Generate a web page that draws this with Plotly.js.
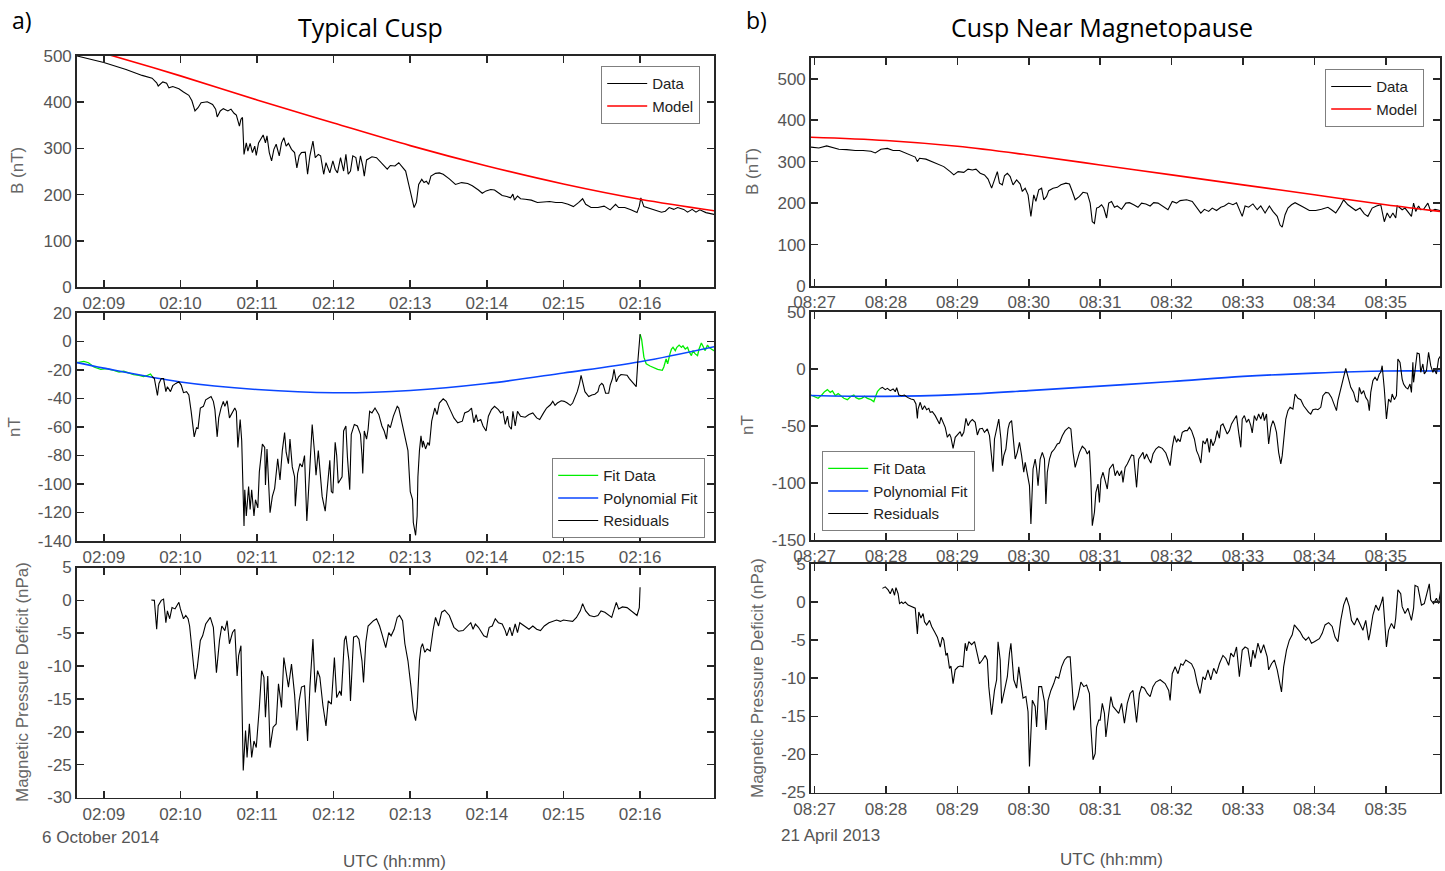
<!DOCTYPE html>
<html>
<head>
<meta charset="utf-8">
<script src="https://cdn.plot.ly/plotly-3.0.1.min.js"></script>
<style>
  html, body { margin: 0; padding: 0; background: #fff; }
  #chart { width: 1445px; height: 871px; }
</style>
</head>
<body>
<div id="chart"></div>
<script>
// ---------- Event a) Typical Cusp, 6 October 2014 (time in minutes after 02:00 UTC) ----------
const aTickVals = [9, 10, 11, 12, 13, 14, 15, 16];
const aTickText = ['02:09', '02:10', '02:11', '02:12', '02:13', '02:14', '02:15', '02:16'];

const aDataT = [8.65,8.81,9.00,9.29,9.50,9.63,9.69,9.71,9.77,9.82,9.85,9.90,9.98,10.04,10.11,10.15,10.19,10.23,10.27,10.35,
  10.42,10.46,10.48,10.52,10.56,10.62,10.66,10.70,10.73,10.77,10.79,10.81,10.83,10.86,10.88,10.91,10.94,10.97,10.99,11.02,
  11.05,11.08,11.11,11.13,11.16,11.19,11.22,11.25,11.29,11.32,11.35,11.38,11.41,11.45,11.49,11.52,11.55,11.58,11.63,11.66,
  11.69,11.73,11.76,11.80,11.83,11.87,11.90,11.95,11.99,12.02,12.05,12.09,12.13,12.16,12.19,12.22,12.25,12.29,12.32,12.35,
  12.38,12.40,12.43,12.47,12.50,12.56,12.61,12.66,12.70,12.74,12.80,12.85,12.90,12.94,12.98,13.02,13.05,13.08,13.11,13.15,
  13.18,13.21,13.24,13.27,13.33,13.38,13.43,13.51,13.59,13.67,13.75,13.81,13.85,13.89,13.94,13.99,14.05,14.10,14.15,14.20,
  14.26,14.31,14.34,14.36,14.40,14.44,14.50,14.58,14.66,14.74,14.82,14.90,14.98,15.06,15.13,15.20,15.25,15.29,15.36,15.45,
  15.53,15.61,15.68,15.72,15.80,15.88,15.96,15.99,16.01,16.05,16.12,16.20,16.28,16.33,16.38,16.44,16.49,16.57,16.62,16.68,
  16.73,16.78,16.86,16.97];
const aDataB = [500,493,486,471,458,452,442,435,444,441,431,434,429,422,415,403,381,388,399,401,
  395,385,368,381,386,381,385,376,372,348,363,367,287,312,294,311,291,305,285,312,
  320,329,312,327,291,273,298,309,284,312,323,305,311,298,291,258,284,291,292,244,
  284,316,280,287,284,244,269,247,273,255,247,280,251,287,244,251,284,280,251,284,
  262,240,275,280,282,280,271,262,255,263,262,269,260,251,222,193,172,183,222,233,
  226,229,222,240,246,247,244,234,222,226,224,219,215,210,203,208,211,210,204,198,
  196,193,201,188,197,191,190,188,183,184,185,183,183,179,174,183,191,179,172,172,
  175,167,179,172,172,167,161,175,193,174,170,167,162,164,172,168,172,168,162,168,
  162,167,161,157];

const aModelT = [8.65, 9, 10, 11, 12, 13, 14, 15, 16, 16.97];
const aModelB = [522, 506, 457, 405, 355, 306, 262, 223, 190, 165];

const aFitT = [8.65,8.74,8.80,8.87,8.96,9.04,9.13,9.20,9.26,9.33,9.39,9.46,9.52,9.57,9.61,9.63, null,
  16.00,16.02,16.05,16.08,16.13,16.18,16.23,16.29,16.31,16.34,16.36,16.39,16.41,16.43,16.46,16.48,16.51,16.54,16.56,
  16.59,16.62,16.64,16.67,16.69,16.72,16.75,16.77,16.80,16.83,16.85,16.88,16.90,16.93,16.96,16.99];
const aFitV = [-14.9,-14.0,-14.9,-17.9,-19.5,-19.1,-20.2,-21.4,-20.9,-22.3,-23.2,-23.7,-24.6,-23.7,-22.8,-24.4, null,
  5.1,1.6,-11.0,-15.6,-17.2,-18.6,-19.5,-20.2,-17.9,-12.2,-15.6,-8.7,-5.3,-4.1,-6.4,-4.1,-2.5,-4.1,-3.0,
  -5.3,-4.1,-7.1,-9.9,-6.4,-8.7,-9.9,-5.3,-1.1,-4.8,-6.4,-2.5,-4.1,-5.3,-6.4,-5.7];

const aPolyT = [8.65, 9, 10, 11, 12, 13, 14, 15, 16, 16.97];
const aPolyV = [-14.8, -18.7, -28.4, -33.7, -36.0, -34.4, -29.5, -22.1, -14.2, -3.6];

const aResT = [9.63,9.66,9.70,9.72,9.75,9.78,9.81,9.83,9.87,9.90,9.94,9.98,10.01,10.04,10.08,10.11,10.14,10.18,10.21,10.23,
  10.26,10.30,10.33,10.37,10.40,10.43,10.45,10.48,10.50,10.53,10.56,10.58,10.61,10.64,10.68,10.71,10.73,10.75,10.78,10.80,
  10.83,10.84,10.86,10.89,10.91,10.93,10.96,10.98,11.01,11.03,11.07,11.10,11.11,11.13,11.17,11.20,11.23,11.27,11.30,11.33,
  11.36,11.38,11.41,11.43,11.46,11.49,11.50,11.53,11.56,11.59,11.62,11.65,11.69,11.72,11.75,11.77,11.80,11.83,11.85,11.89,
  11.91,11.95,11.97,11.99,12.02,12.04,12.06,12.09,12.11,12.13,12.16,12.18,12.21,12.23,12.27,12.31,12.35,12.37,12.38,12.40,
  12.43,12.45,12.47,12.50,12.54,12.59,12.63,12.66,12.69,12.71,12.74,12.78,12.83,12.85,12.88,12.93,12.97,13.00,13.03,13.04,
  13.07,13.09,13.10,13.12,13.14,13.16,13.17,13.20,13.23,13.25,13.28,13.31,13.32,13.35,13.38,13.43,13.47,13.52,13.57,13.62,
  13.68,13.71,13.76,13.80,13.83,13.86,13.88,13.92,13.95,13.99,14.02,14.06,14.10,14.15,14.18,14.21,14.24,14.27,14.29,14.32,
  14.34,14.37,14.40,14.44,14.50,14.55,14.60,14.65,14.69,14.74,14.78,14.83,14.86,14.89,14.92,14.97,15.01,15.05,15.09,15.12,
  15.15,15.18,15.21,15.23,15.25,15.28,15.33,15.37,15.41,15.45,15.47,15.50,15.52,15.55,15.59,15.61,15.64,15.66,15.69,15.72,
  15.75,15.79,15.83,15.86,15.90,15.93,15.95,15.97,15.99,16.00];
const aResV = [-24.4,-26.0,-37.9,-29.4,-26.0,-26.0,-35.2,-31.7,-35.2,-31.0,-29.4,-28.3,-30.6,-35.9,-35.2,-37.5,-49.0,-66.9,-60.5,-61.0,
  -46.7,-45.5,-40.9,-39.3,-38.6,-42.0,-47.8,-66.9,-53.6,-46.7,-42.0,-45.5,-41.6,-53.6,-49.0,-46.7,-49.0,-74.3,-54.7,-69.7,
  -129.4,-104.0,-122.5,-101.8,-117.9,-104.0,-122.5,-111.0,-116.8,-91.5,-72.0,-74.3,-100.7,-75.4,-120.2,-108.7,-103.0,-82.3,-97.2,-76.6,
  -63.9,-77.7,-85.7,-68.5,-88.0,-94.9,-115.6,-92.6,-85.7,-88.0,-80.0,-126.0,-88.0,-58.2,-77.7,-93.8,-76.6,-94.9,-108.7,-119.1,
  -106.4,-83.4,-105.3,-106.4,-70.8,-80.0,-99.5,-97.2,-94.9,-62.8,-59.3,-81.1,-104.0,-65.1,-58.2,-59.3,-65.1,-80.0,-92.6,-62.8,
  -68.5,-61.6,-49.0,-50.1,-46.7,-51.3,-59.3,-62.8,-68.5,-58.2,-60.5,-52.4,-45.5,-46.7,-53.6,-67.4,-76.6,-105.3,-111.0,-127.0,
  -136.0,-122.5,-94.9,-76.6,-66.2,-74.3,-69.7,-75.4,-70.8,-73.0,-55.9,-49.0,-46.7,-51.3,-43.2,-40.2,-42.0,-47.8,-53.6,-57.0,
  -55.9,-50.1,-49.0,-46.7,-57.0,-51.3,-55.9,-54.7,-59.3,-62.8,-52.4,-47.8,-45.5,-47.8,-50.1,-49.0,-58.2,-52.4,-59.3,-61.6,
  -49.0,-59.3,-49.0,-52.4,-53.1,-51.3,-50.1,-53.6,-54.7,-50.1,-46.7,-44.4,-42.0,-44.8,-43.2,-41.6,-42.0,-43.2,-44.8,-43.2,
  -39.3,-35.2,-29.4,-23.7,-28.3,-35.2,-38.6,-37.5,-37.0,-35.2,-31.0,-29.4,-30.6,-36.3,-36.3,-30.6,-26.0,-19.5,-28.3,-24.8,
  -23.2,-23.2,-23.7,-26.0,-28.7,-30.6,-31.7,-14.5,-0.7,5.1];

const aDefT = [9.62,9.66,9.69,9.71,9.75,9.78,9.81,9.83,9.86,9.89,9.93,9.98,10.00,10.04,10.07,10.10,10.12,10.16,10.19,10.22,
  10.26,10.29,10.33,10.39,10.43,10.47,10.51,10.54,10.58,10.61,10.64,10.68,10.71,10.74,10.76,10.79,10.82,10.85,10.87,10.90,
  10.93,10.96,10.99,11.03,11.06,11.09,11.11,11.14,11.17,11.21,11.25,11.28,11.32,11.35,11.39,11.41,11.45,11.49,11.52,11.55,
  11.58,11.62,11.66,11.69,11.73,11.76,11.79,11.82,11.86,11.90,11.93,11.97,12.01,12.04,12.08,12.10,12.14,12.16,12.20,12.22,
  12.26,12.30,12.33,12.37,12.39,12.42,12.45,12.49,12.52,12.56,12.60,12.63,12.68,12.72,12.75,12.79,12.83,12.86,12.90,12.93,
  12.97,13.01,13.04,13.07,13.09,13.12,13.14,13.16,13.19,13.22,13.26,13.30,13.33,13.37,13.41,13.45,13.51,13.57,13.63,13.69,
  13.75,13.79,13.82,13.85,13.89,13.92,13.96,14.00,14.03,14.07,14.11,14.15,14.20,14.24,14.26,14.30,14.33,14.37,14.40,14.43,
  14.49,14.55,14.60,14.65,14.70,14.75,14.81,14.87,14.91,14.96,15.00,15.06,15.12,15.17,15.22,15.25,15.29,15.34,15.40,15.45,
  15.49,15.54,15.59,15.63,15.65,15.69,15.72,15.77,15.83,15.89,15.94,15.96,15.99,16.00];
const aDefV = [0.05,0,-4.4,-0.8,0,0.2,-3.4,-1.6,-2.8,-1.1,-1.3,-0.3,-1.3,-2.8,-2.3,-2.8,-3.9,-8.2,-12.0,-10.2,
  -6.1,-5.4,-3.6,-2.6,-4.1,-11.0,-6.1,-3.9,-4.6,-3.1,-6.6,-4.9,-4.4,-11.5,-8.4,-6.9,-25.9,-19.8,-23.9,-18.8,
  -23.9,-21.4,-22.4,-16.3,-10.7,-11.7,-17.8,-11.5,-22.4,-19.3,-18.8,-12.7,-16.3,-8.7,-11.5,-13.2,-9.7,-14.3,-19.8,-15.3,
  -13.2,-13.0,-21.4,-13.2,-5.9,-14.0,-10.7,-11.7,-16.0,-19.1,-15.3,-15.8,-8.7,-14.8,-13.8,-14.5,-6.1,-5.4,-9.2,-15.3,
  -5.6,-5.4,-5.9,-9.2,-12.5,-6.4,-3.9,-3.4,-3.1,-2.8,-3.9,-5.1,-7.2,-4.9,-5.4,-4.4,-2.6,-2.3,-3.1,-6.6,
  -9.2,-13.2,-16.8,-18.3,-16.3,-9.2,-7.2,-6.6,-7.9,-7.4,-7.7,-4.4,-2.6,-3.9,-1.8,-1.5,-2.3,-4.1,-4.7,-4.6,
  -3.9,-3.4,-4.4,-3.6,-4.1,-4.6,-5.4,-5.6,-4.1,-3.9,-2.8,-3.4,-3.6,-4.6,-5.4,-4.1,-5.4,-3.6,-4.9,-3.4,
  -3.9,-4.4,-3.9,-4.4,-4.6,-3.9,-3.4,-3.1,-3.0,-3.2,-3.0,-3.1,-3.2,-2.6,-1.6,-0.5,-1.6,-2.3,-2.5,-2.3,
  -1.6,-1.8,-2.3,-2.6,-1.8,-0.3,-1.3,-1.0,-1.1,-1.6,-2.0,-2.3,-1.1,2.0];

// ---------- Event b) Cusp Near Magnetopause, 21 April 2013 (time in minutes after 08:00 UTC) ----------
const bTickVals = [27, 28, 29, 30, 31, 32, 33, 34, 35];
const bTickText = ['08:27', '08:28', '08:29', '08:30', '08:31', '08:32', '08:33', '08:34', '08:35'];

const bDataT = [26.95,27.06,27.17,27.25,27.34,27.45,27.57,27.68,27.79,27.85,27.93,28.02,28.10,28.19,28.27,28.36,28.41,28.44,28.47,28.56,
  28.64,28.73,28.81,28.90,28.95,29.01,29.09,29.15,29.21,29.26,29.32,29.38,29.43,29.48,29.52,29.56,29.59,29.63,29.66,29.70,
  29.74,29.78,29.83,29.88,29.91,29.95,29.99,30.03,30.07,30.10,30.14,30.18,30.21,30.25,30.28,30.34,30.40,30.45,30.52,30.57,
  30.61,30.65,30.71,30.76,30.82,30.86,30.89,30.92,30.95,30.98,31.02,31.05,31.09,31.12,31.16,31.20,31.24,31.30,31.36,31.41,
  31.47,31.53,31.58,31.64,31.70,31.75,31.81,31.87,31.95,32.01,32.07,32.12,32.21,32.29,32.35,32.41,32.46,32.52,32.57,32.63,
  32.69,32.74,32.80,32.86,32.91,32.95,32.99,33.03,33.08,33.14,33.20,33.25,33.31,33.37,33.42,33.48,33.52,33.55,33.59,33.63,
  33.68,33.73,33.79,33.85,33.93,34.02,34.10,34.19,34.24,34.30,34.36,34.41,34.47,34.53,34.58,34.64,34.70,34.75,34.81,34.87,
  34.93,34.98,35.02,35.06,35.10,35.14,35.16,35.19,35.23,35.27,35.32,35.36,35.39,35.42,35.46,35.49,35.53,35.59,35.63,35.69,
  35.76];
const bDataB = [335,333,338,335,330,329,327,327,325,321,330,332,327,327,321,316,311,300,308,306,
  300,295,288,276,268,276,274,282,280,282,272,268,258,236,256,276,248,244,266,272,
  264,244,256,246,228,236,220,168,220,204,232,236,208,216,230,236,238,244,248,246,
  228,208,216,226,224,200,155,151,188,190,196,188,164,200,204,190,193,185,200,201,
  196,190,200,198,193,201,200,193,184,204,200,206,208,204,190,176,185,180,188,182,
  190,193,200,196,201,185,168,193,190,198,184,193,176,193,180,168,147,142,172,188,
  196,201,196,190,182,182,185,190,184,176,192,208,196,188,182,188,174,168,188,193,
  196,155,176,164,176,164,193,190,184,188,177,168,200,180,193,184,185,200,180,185,
  182];

const bModelT = [26.95, 28, 29, 30, 31, 32, 33, 34, 35, 35.76];
const bModelB = [359, 351, 337, 316, 292, 268, 244, 220, 196, 180];

const bFitT = [26.95,27.00,27.05,27.10,27.14,27.18,27.22,27.25,27.29,27.33,27.37,27.41,27.46,27.51,27.55,27.58,27.62,27.66,27.70,27.74,
  27.79,27.83,27.85,27.88,27.92];
const bFitV = [-22.8,-24.0,-25.7,-22.8,-19.9,-18.1,-20.5,-19.3,-23.4,-21.6,-24.0,-25.7,-26.9,-24.0,-22.8,-25.1,-26.3,-25.7,-24.0,-25.7,
  -26.9,-28.7,-24.9,-19.9,-17.0];

const bPolyT = [26.95, 28, 29, 30, 31, 32, 33, 34, 35, 35.76];
const bPolyV = [-23.2, -24.0, -22.5, -19.0, -15.0, -11.0, -6.5, -3.6, -1.8, -1.8];

const bResT = [27.92,27.95,27.99,28.02,28.06,28.10,28.13,28.15,28.18,28.22,28.26,28.30,28.35,28.39,28.42,28.44,28.45,28.48,28.51,28.54,
  28.57,28.60,28.62,28.65,28.69,28.72,28.75,28.77,28.80,28.83,28.86,28.89,28.91,28.94,28.97,29.01,29.04,29.06,29.09,29.12,
  29.15,29.18,29.21,29.25,29.28,29.31,29.35,29.38,29.42,29.45,29.48,29.50,29.52,29.55,29.58,29.61,29.63,29.65,29.68,29.71,
  29.73,29.76,29.79,29.81,29.84,29.87,29.90,29.93,29.95,29.98,30.01,30.03,30.06,30.09,30.11,30.13,30.16,30.19,30.22,30.24,
  30.26,30.29,30.32,30.36,30.40,30.43,30.47,30.51,30.56,30.59,30.62,30.65,30.68,30.71,30.75,30.79,30.82,30.85,30.87,30.89,
  30.92,30.94,30.97,30.99,31.01,31.04,31.07,31.10,31.13,31.16,31.18,31.21,31.24,31.27,31.30,31.32,31.35,31.38,31.41,31.44,
  31.47,31.49,31.51,31.54,31.57,31.60,31.62,31.65,31.68,31.71,31.74,31.78,31.82,31.87,31.92,31.95,31.98,32.01,32.04,32.07,
  32.09,32.12,32.15,32.19,32.22,32.25,32.28,32.32,32.35,32.38,32.41,32.44,32.47,32.50,32.53,32.55,32.58,32.61,32.64,32.67,
  32.69,32.72,32.75,32.78,32.81,32.84,32.88,32.91,32.94,32.97,32.99,33.02,33.05,33.08,33.11,33.13,33.16,33.19,33.22,33.25,
  33.28,33.30,33.33,33.36,33.39,33.42,33.44,33.47,33.50,33.53,33.55,33.58,33.60,33.63,33.66,33.70,33.73,33.77,33.81,33.85,
  33.88,33.92,33.95,33.98,34.02,34.05,34.09,34.12,34.16,34.20,34.24,34.28,34.31,34.33,34.37,34.41,34.44,34.48,34.51,34.55,
  34.58,34.61,34.63,34.66,34.69,34.72,34.75,34.77,34.79,34.82,34.85,34.88,34.91,34.93,34.95,34.98,35.01,35.04,35.07,35.09,
  35.12,35.15,35.17,35.20,35.23,35.25,35.28,35.31,35.34,35.36,35.38,35.39,35.41,35.44,35.47,35.49,35.52,35.54,35.57,35.60,
  35.63,35.66,35.68,35.71,35.74,35.77];
const bResV = [-17.0,-16.1,-18.1,-17.0,-19.0,-17.5,-19.9,-16.4,-22.8,-23.4,-22.8,-24.9,-26.3,-26.9,-30.7,-43.3,-35.1,-29.2,-35.7,-32.2,
  -35.7,-34.5,-38.0,-37.4,-40.9,-44.4,-48.2,-42.4,-46.8,-51.2,-59.9,-57.0,-59.9,-69.6,-59.9,-57.0,-55.0,-59.1,-55.6,-43.3,
  -49.7,-46.2,-44.4,-46.8,-57.9,-52.6,-52.0,-55.6,-52.6,-58.5,-81.9,-90.1,-61.4,-51.2,-43.9,-61.4,-84.8,-76.0,-70.2,-52.6,
  -47.4,-45.3,-67.3,-79.0,-73.1,-64.3,-76.0,-90.6,-81.9,-90.6,-102.3,-136.0,-87.7,-79.0,-87.7,-102.3,-79.0,-73.1,-79.0,-118.4,
  -90.6,-79.0,-73.1,-70.2,-65.8,-64.9,-58.5,-54.1,-51.2,-52.6,-73.1,-86.3,-79.0,-73.1,-67.8,-70.2,-74.6,-71.6,-96.5,-137.4,
  -125.7,-108.2,-100.9,-117.0,-96.5,-90.6,-98.0,-105.3,-87.7,-84.8,-83.3,-93.6,-89.2,-93.6,-89.2,-99.4,-86.3,-83.3,-79.0,-75.4,
  -76.0,-90.6,-103.8,-79.0,-76.0,-73.1,-79.0,-74.6,-79.0,-82.5,-74.6,-70.2,-68.1,-69.6,-73.7,-79.0,-84.8,-68.7,-58.5,-64.3,
  -61.4,-63.7,-55.6,-54.1,-54.1,-51.2,-54.1,-61.4,-71.6,-76.0,-82.5,-62.9,-65.8,-60.8,-73.1,-61.4,-67.3,-62.9,-54.1,-60.8,
  -49.7,-48.2,-52.6,-57.0,-54.1,-48.2,-43.9,-40.9,-55.6,-68.7,-43.9,-40.9,-46.8,-43.9,-49.7,-56.1,-40.9,-45.3,-39.5,-43.9,
  -38.0,-45.3,-39.5,-65.8,-51.2,-45.3,-48.2,-55.6,-73.1,-83.3,-76.0,-55.6,-43.9,-36.5,-33.6,-35.1,-21.9,-25.7,-26.9,-32.2,
  -35.1,-38.0,-39.5,-35.7,-35.1,-35.7,-33.6,-23.4,-20.5,-21.1,-24.9,-30.7,-36.5,-27.8,-17.5,-5.8,0.6,-8.8,-16.1,-20.5,
  -27.8,-29.2,-16.1,-21.9,-19.0,-24.9,-27.8,-36.5,-20.5,-10.2,-7.3,-10.2,-4.4,-2.9,2.9,-17.5,-43.9,-26.3,-29.2,-21.9,
  -26.9,-23.4,8.8,5.8,-8.8,-13.2,-16.1,-17.5,-13.2,-20.5,5.8,-11.7,0,14.0,13.2,-2.9,4.4,-4.4,-1.5,14.6,
  2.9,-2.9,0,-4.4,8.8,11.7];

const bDefT = [27.95,27.99,28.03,28.06,28.09,28.12,28.14,28.17,28.19,28.22,28.24,28.27,28.31,28.35,28.39,28.41,28.44,28.46,28.49,28.52,
  28.54,28.57,28.61,28.64,28.68,28.72,28.76,28.79,28.81,28.84,28.86,28.89,28.91,28.94,28.97,29.01,29.04,29.08,29.11,29.13,
  29.16,29.20,29.24,29.28,29.31,29.35,29.39,29.42,29.44,29.48,29.52,29.55,29.57,29.60,29.62,29.66,29.70,29.73,29.75,29.79,
  29.83,29.86,29.88,29.92,29.96,29.99,30.01,30.05,30.09,30.11,30.14,30.18,30.22,30.24,30.27,30.31,30.35,30.38,30.42,30.46,
  30.50,30.54,30.58,30.60,30.63,30.66,30.69,30.73,30.77,30.81,30.85,30.87,30.90,30.93,30.95,30.98,31.00,31.03,31.06,31.08,
  31.11,31.15,31.18,31.22,31.26,31.30,31.34,31.38,31.42,31.46,31.51,31.55,31.58,31.62,31.66,31.70,31.74,31.78,31.84,31.91,
  31.96,31.98,32.01,32.05,32.09,32.13,32.16,32.20,32.24,32.28,32.32,32.36,32.40,32.44,32.47,32.51,32.55,32.59,32.63,32.67,
  32.72,32.76,32.80,32.83,32.87,32.91,32.95,32.99,33.03,33.07,33.11,33.14,33.17,33.21,33.25,33.29,33.34,33.36,33.40,33.44,
  33.48,33.52,33.54,33.57,33.61,33.65,33.69,33.72,33.76,33.80,33.84,33.88,33.92,33.96,34.00,34.03,34.07,34.11,34.15,34.20,
  34.25,34.29,34.33,34.37,34.41,34.45,34.49,34.52,34.56,34.60,34.64,34.68,34.72,34.76,34.78,34.82,34.86,34.90,34.94,34.96,
  34.99,35.01,35.04,35.08,35.12,35.14,35.17,35.21,35.23,35.27,35.31,35.34,35.36,35.39,35.41,35.45,35.48,35.50,35.54,35.58,
  35.61,35.63,35.67,35.71,35.74,35.77];
const bDefV = [1.8,2.0,1.6,1.1,1.8,0.9,1.9,1.1,-0.2,0,-0.2,0,-0.4,-0.6,-0.8,-0.8,-4.2,-1.3,-2.1,-1.5,
  -2.6,-3.0,-2.4,-3.2,-3.9,-4.6,-5.9,-4.6,-5.0,-7.0,-6.7,-8.7,-8.4,-10.7,-8.9,-8.5,-8.4,-8.5,-5.4,-6.4,
  -5.2,-5.6,-5.2,-7.0,-8.1,-7.6,-7.0,-7.6,-11.1,-14.8,-11.6,-10.2,-5.2,-7.6,-13.3,-11.6,-9.8,-6.7,-5.4,-10.2,
  -11.3,-8.5,-9.8,-12.6,-12.4,-14.4,-21.6,-12.9,-13.7,-16.4,-11.1,-11.1,-13.1,-16.8,-12.9,-11.6,-10.7,-9.8,-10.0,-8.5,
  -7.6,-7.2,-7.2,-10.2,-14.2,-13.3,-12.4,-10.5,-11.1,-10.9,-12.0,-16.4,-20.7,-19.9,-16.4,-15.5,-15.5,-13.3,-14.6,-17.7,
  -15.1,-12.4,-13.7,-14.2,-14.6,-13.3,-15.9,-13.3,-12.0,-11.6,-15.8,-12.0,-11.1,-11.3,-12.0,-12.4,-11.1,-10.5,-10.2,-10.7,
  -11.6,-12.9,-9.4,-8.5,-9.4,-8.1,-8.3,-7.6,-7.8,-8.1,-8.9,-10.7,-12.0,-9.8,-10.2,-8.9,-10.2,-8.7,-9.4,-8.1,
  -7.0,-7.4,-8.3,-6.7,-7.2,-5.9,-9.8,-6.3,-5.9,-6.1,-8.5,-6.3,-7.4,-5.4,-6.7,-5.6,-7.2,-8.9,-8.1,-7.6,
  -8.9,-10.9,-11.8,-8.5,-6.3,-5.0,-4.3,-3.0,-3.5,-3.9,-4.6,-5.0,-4.6,-5.4,-5.2,-5.0,-4.8,-4.1,-3.0,-2.7,
  -3.2,-4.6,-5.2,-2.4,-0.4,0.6,-0.6,-2.4,-3.0,-2.1,-3.0,-3.7,-2.4,-5.0,-4.1,-1.7,-0.4,-1.1,0,0.7,
  -3.2,-5.9,-3.7,-2.8,-3.5,-2.1,1.6,1.1,-0.6,-1.5,-0.8,-1.7,-2.4,-0.8,2.2,2.0,0.3,-0.4,-0.2,1.1,
  2.4,0.3,-0.2,0.5,-0.2,1.6];

// y tick positions for each panel (labels written with a plain hyphen)
const aBTicks = [0, 100, 200, 300, 400, 500];
const aResTicks = [-140, -120, -100, -80, -60, -40, -20, 0, 20];
const aDefTicks = [-30, -25, -20, -15, -10, -5, 0, 5];
const bBTicks = [0, 100, 200, 300, 400, 500];
const bResTicks = [-150, -100, -50, 0, 50];
const bDefTicks = [-25, -20, -15, -10, -5, 0, 5];

// ---------- styling ----------
const W = 1445, H = 871;
const px = v => v / W;           // horizontal pixel -> paper
const py = v => 1 - v / H;       // vertical pixel (from top) -> paper

const BLACK = '#000000', RED = '#ff0000', GREEN = '#00ee00', BLUE = '#0a46ff';
const FONT = 'Liberation Sans, Arial, Helvetica, sans-serif';
const TITLE_FONT = 'Open Sans, Noto Sans, sans-serif';

function line(x, y, color, width, xa, ya, name, legend, showlegend, shape) {
  return {
    type: 'scatter', mode: 'lines', x: x, y: y, xaxis: xa, yaxis: ya,
    name: name, legend: legend, showlegend: showlegend,
    line: { color: color, width: width, shape: shape || 'linear' },
    connectgaps: false, hoverinfo: 'skip'
  };
}

const traces = [
  // a) field magnitude
  line(aDataT, aDataB, BLACK, 1.1, 'x', 'y', 'Data', 'legend', true),
  line(aModelT, aModelB, RED, 1.6, 'x', 'y', 'Model', 'legend', true, 'spline'),
  // a) residual panel
  line(aFitT, aFitV, GREEN, 1.3, 'x2', 'y2', 'Fit Data', 'legend2', true),
  line(aPolyT, aPolyV, BLUE, 1.6, 'x2', 'y2', 'Polynomial Fit', 'legend2', true, 'spline'),
  line(aResT, aResV, BLACK, 1.1, 'x2', 'y2', 'Residuals', 'legend2', true),
  // a) pressure deficit
  line(aDefT, aDefV, BLACK, 1.1, 'x3', 'y3', 'Deficit', 'legend', false),
  // b) field magnitude
  line(bDataT, bDataB, BLACK, 1.1, 'x4', 'y4', 'Data', 'legend3', true),
  line(bModelT, bModelB, RED, 1.6, 'x4', 'y4', 'Model', 'legend3', true, 'spline'),
  // b) residual panel
  line(bFitT, bFitV, GREEN, 1.3, 'x5', 'y5', 'Fit Data', 'legend4', true),
  line(bPolyT, bPolyV, BLUE, 1.6, 'x5', 'y5', 'Polynomial Fit', 'legend4', true, 'spline'),
  line(bResT, bResV, BLACK, 1.1, 'x5', 'y5', 'Residuals', 'legend4', true),
  // b) pressure deficit
  line(bDefT, bDefV, BLACK, 1.1, 'x6', 'y6', 'Deficit', 'legend3', false)
];

const axisBase = {
  showline: true, mirror: 'ticks', linecolor: '#262626', linewidth: 1.8,
  ticks: 'inside', ticklen: 7, tickwidth: 1.6, tickcolor: '#262626',
  showgrid: false, zeroline: false, fixedrange: true,
  tickfont: { family: FONT, size: 17, color: '#555555' }
};
function xAxis(domain, range, vals, text, anchor) {
  return Object.assign({}, axisBase, { domain: domain, range: range, tickvals: vals, ticktext: text, anchor: anchor });
}
function yAxis(domain, range, vals, anchor) {
  return Object.assign({}, axisBase, {
    domain: domain, range: range, tickvals: vals, ticktext: vals.map(v => String(v)), anchor: anchor
  });
}

const aX = [px(77), px(714)];
const bX = [px(811), px(1440)];
const aRange = [8.65, 16.965];
const bRange = [26.95, 35.76];

function legendBox(x, y, xanchor, yanchor) {
  return {
    x: x, y: y, xanchor: xanchor, yanchor: yanchor, xref: 'paper', yref: 'paper',
    bgcolor: '#ffffff', bordercolor: '#7f7f7f', borderwidth: 1.2,
    font: { family: FONT, size: 15, color: '#222222' }, itemwidth: 40, tracegroupgap: 0,
    traceorder: 'normal', itemclick: false, itemdoubleclick: false
  };
}

function note(text, x, y, opts) {
  return Object.assign({
    text: text, x: x, y: y, xref: 'paper', yref: 'paper', showarrow: false,
    xanchor: 'center', yanchor: 'middle',
    font: { family: FONT, size: 17, color: '#555555' }
  }, opts || {});
}
const axisTitleFont = { family: FONT, size: 17, color: '#666666' };

const layout = {
  width: W, height: H, margin: { l: 0, r: 0, t: 0, b: 0 },
  paper_bgcolor: '#ffffff', plot_bgcolor: '#ffffff', showlegend: true,
  xaxis:  xAxis(aX, aRange, aTickVals, aTickText, 'y'),
  yaxis:  yAxis([py(287), py(56)], [0, 500], aBTicks, 'x'),
  xaxis2: xAxis(aX, aRange, aTickVals, aTickText, 'y2'),
  yaxis2: yAxis([py(541), py(313)], [-140, 20], aResTicks, 'x2'),
  xaxis3: xAxis(aX, aRange, aTickVals, aTickText, 'y3'),
  yaxis3: yAxis([py(797.5), py(567.5)], [-30, 5], aDefTicks, 'x3'),
  xaxis4: xAxis(bX, bRange, bTickVals, bTickText, 'y4'),
  yaxis4: yAxis([py(286), py(58)], [0, 550], bBTicks, 'x4'),
  xaxis5: xAxis(bX, bRange, bTickVals, bTickText, 'y5'),
  yaxis5: yAxis([py(540), py(312)], [-150, 50], bResTicks, 'x5'),
  xaxis6: xAxis(bX, bRange, bTickVals, bTickText, 'y6'),
  yaxis6: yAxis([py(792.5), py(564)], [-25, 5], bDefTicks, 'x6'),
  legend:  legendBox(px(700), py(66), 'right', 'top'),
  legend2: legendBox(px(705), py(538), 'right', 'bottom'),
  legend3: legendBox(px(1424), py(69), 'right', 'top'),
  legend4: legendBox(px(822), py(531), 'left', 'bottom'),
  annotations: [
    note('a)', px(10), py(20), { xanchor: 'left', font: { family: TITLE_FONT, size: 23, color: '#000' } }),
    note('Typical Cusp', px(370), py(27), { font: { family: TITLE_FONT, size: 25, color: '#000' } }),
    note('b)', px(744), py(20), { xanchor: 'left', font: { family: TITLE_FONT, size: 23, color: '#000' } }),
    note('Cusp Near Magnetopause', px(1102), py(27), { font: { family: TITLE_FONT, size: 25, color: '#000' } }),
    note('B (nT)', px(18), py(171), { textangle: -90, font: axisTitleFont }),
    note('nT', px(14), py(427), { textangle: -90, font: axisTitleFont }),
    note('Magnetic Pressure Deficit (nPa)', px(22), py(682), { textangle: -90, font: axisTitleFont }),
    note('B (nT)', px(753), py(172), { textangle: -90, font: axisTitleFont }),
    note('nT', px(748), py(425), { textangle: -90, font: axisTitleFont }),
    note('Magnetic Pressure Deficit (nPa)', px(757), py(678), { textangle: -90, font: axisTitleFont }),
    note('6 October 2014', px(40), py(837), { xanchor: 'left' }),
    note('UTC (hh:mm)', px(394), py(861)),
    note('21 April 2013', px(779), py(835), { xanchor: 'left' }),
    note('UTC (hh:mm)', px(1111), py(859))
  ]
};

Plotly.newPlot('chart', traces, layout, { displayModeBar: false, staticPlot: true });
</script>
</body>
</html>
